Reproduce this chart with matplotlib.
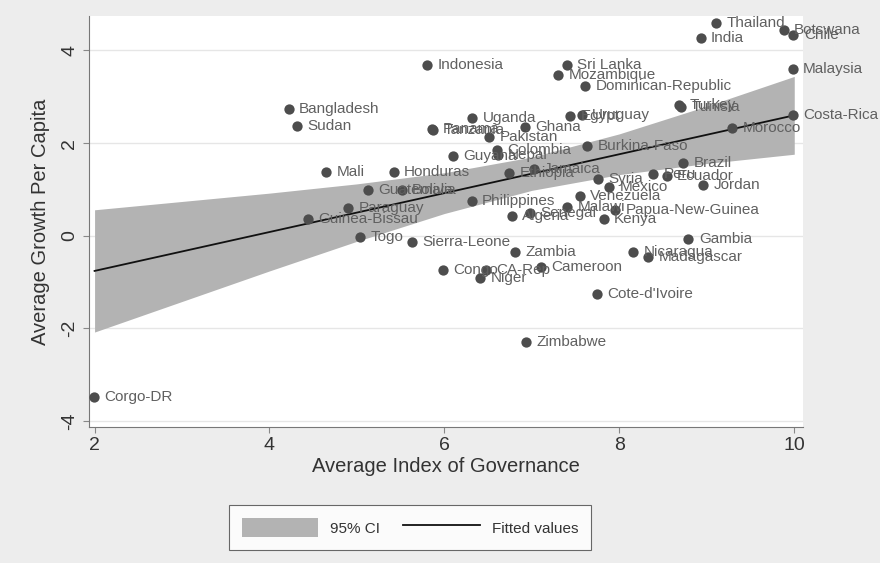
import numpy as np
import matplotlib.pyplot as plt
from matplotlib.patches import Patch
from matplotlib.lines import Line2D

plt.rcParams['font.family'] = ['Liberation Sans', 'DejaVu Sans']

# data (governance index, growth per capita)
countries = ['Thailand', 'India', 'Botswana', 'Chile', 'Malaysia', 'Costa-Rica',
             'Morocco', 'Tunisia', 'Turkey', 'Sri Lanka', 'Mozambique',
             'Dominican-Republic', 'Egypt', 'Uruguay', 'Burkina-Faso', 'Brazil',
             'Peru', 'Ecuador', 'Jordan', 'Syria', 'Mexico', 'Venezuela', 'Malawi',
             'Papua-New-Guinea', 'Kenya', 'Senegal', 'Algeria', 'Philippines',
             'Ethiopia', 'Jamaica', 'Guatemala', 'Bolivia', 'Paraguay',
             'Guinea-Bissau', 'Togo', 'Sierra-Leone', 'Zambia', 'Congo', 'CA-Rep',
             'Niger', 'Cameroon', "Cote-d'Ivoire", 'Zimbabwe', 'Corgo-DR', 'Gambia',
             'Nicaragua', 'Madagascar', 'Indonesia', 'Bangladesh', 'Sudan', 'Uganda',
             'Panama', 'Tanzania', 'Pakistan', 'Ghana', 'Colombia', 'Nepal',
             'Guyana', 'Mali', 'Honduras']
governance = [9.11, 8.93, 9.88, 9.99, 9.98, 9.98,
              9.29, 8.71, 8.68, 7.40, 7.30,
              7.61, 7.44, 7.57, 7.63, 8.73,
              8.39, 8.54, 8.96, 7.76, 7.88, 7.55, 7.40,
              7.95, 7.82, 6.98, 6.77, 6.31,
              6.74, 7.02, 5.13, 5.51, 4.90,
              4.44, 5.04, 5.63, 6.81, 5.98, 6.47,
              6.41, 7.10, 7.74, 6.93, 1.99, 8.79,
              8.16, 8.33, 5.80, 4.22, 4.31, 6.32,
              5.86, 5.87, 6.51, 6.92, 6.60, 6.61,
              6.10, 4.65, 5.42]
growth = [4.59, 4.27, 4.45, 4.34, 3.59, 2.61,
          2.33, 2.79, 2.83, 3.69, 3.48,
          3.24, 2.58, 2.61, 1.93, 1.57,
          1.34, 1.30, 1.10, 1.22, 1.06, 0.85, 0.63,
          0.56, 0.37, 0.50, 0.42, 0.76,
          1.35, 1.44, 0.99, 0.99, 0.60,
          0.37, -0.02, -0.14, -0.36, -0.75, -0.73,
          -0.91, -0.68, -1.25, -2.30, -3.48, -0.07,
          -0.36, -0.45, 3.68, 2.74, 2.36, 2.54,
          2.31, 2.28, 2.14, 2.35, 1.86, 1.75,
          1.73, 1.38, 1.38]

# fitted line and 95% CI band
fit_x = [2, 10]
fit_y = [-0.76, 2.60]
ci_x = [2, 3, 4, 5, 6, 7, 8, 9, 10]
ci_low = [-2.08, -1.42, -0.76, -0.12, 0.48, 0.98, 1.32, 1.56, 1.76]
ci_high = [0.56, 0.74, 0.92, 1.12, 1.36, 1.70, 2.20, 2.80, 3.44]

band_color = '#b3b3b3'
dot_color = '#4d4d4d'
text_color = '#606060'

fig = plt.figure(figsize=(8.8, 5.63), dpi=100, facecolor='#ededed')
ax = fig.add_axes([0.101, 0.2416, 0.8115, 0.7304])
ax.set_facecolor('white')

ax.fill_between(ci_x, ci_low, ci_high, color=band_color, lw=0, zorder=1)
ax.plot(fit_x, fit_y, color='#111111', lw=1.3, zorder=2)
ax.scatter(governance, growth, s=55, color=dot_color, lw=0, zorder=3)
for name, gx, gy in zip(countries, governance, growth):
    ax.annotate(name, (gx, gy), xytext=(7.5, 0), textcoords='offset points',
                va='center', ha='left', fontsize=11, color=text_color,
                annotation_clip=False, zorder=4)

ax.set_xlim(1.935, 10.10)
ax.set_ylim(-4.13, 4.75)
ax.set_xticks([2, 4, 6, 8, 10])
ax.set_yticks([-4, -2, 0, 2, 4])
ax.set_yticklabels(['-4', '-2', '0', '2', '4'], rotation=90, va='center')
ax.grid(axis='y', color='#e6e6e6', lw=1)
ax.set_axisbelow(True)
for side in ['top', 'right']:
    ax.spines[side].set_visible(False)
for side in ['left', 'bottom']:
    ax.spines[side].set_color('#777777')
ax.tick_params(colors='#333333', labelsize=14, length=4, color='#888888')
ax.set_xlabel('Average Index of Governance', fontsize=14.5, color='#333333', labelpad=2)
ax.set_ylabel('Average Growth Per Capita', fontsize=14.5, color='#333333', labelpad=8)

handles = [Patch(facecolor=band_color, edgecolor='none'),
           Line2D([0], [0], color='#111111', lw=1.3)]
leg = fig.legend(handles, ['95% CI', 'Fitted values'], ncol=2,
                 loc='center', bbox_to_anchor=(0.466, 0.063),
                 fontsize=11, frameon=True, fancybox=False,
                 edgecolor='#444444', facecolor='white',
                 handlelength=5.0, handleheight=1.6, columnspacing=1.5,
                 borderpad=0.85, handletextpad=0.8)
leg.get_frame().set_linewidth(0.8)
for t in leg.get_texts():
    t.set_color('#333333')

fig.savefig('out.png', dpi=100, facecolor=fig.get_facecolor())
